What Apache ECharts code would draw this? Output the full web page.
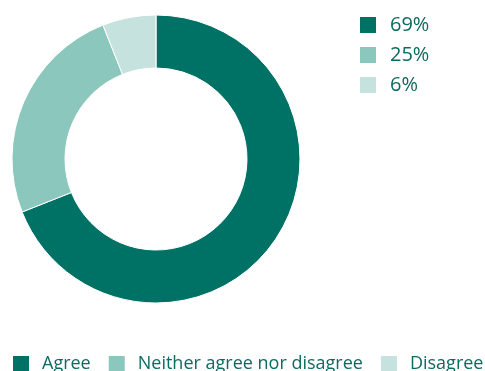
<!DOCTYPE html>
<html><head><meta charset="utf-8">
<script src="https://cdn.jsdelivr.net/npm/echarts@6/dist/echarts.min.js"></script>
<style>html,body{margin:0;padding:0;background:#fff}#c{width:485px;height:371px}</style>
</head><body><div id="c"></div>
<script>
const categories = ["Agree", "Neither agree nor disagree", "Disagree"];
const values = [69, 25, 6];
const colors = ["#007265", "#8cc7bd", "#c5e2de"];
const pctLabels = {};
categories.forEach((c, i) => pctLabels[c] = values[i] + "%");
const chart = echarts.init(document.getElementById('c'));
const font = "'Open Sans', sans-serif";
chart.setOption({
  animation: false,
  color: colors,
  legend: [
    {
      orient: 'vertical', left: 360, top: 15, padding: 0, itemWidth: 16, itemHeight: 16, itemGap: 10,
      icon: 'rect', data: categories, selectedMode: false,
      itemStyle: { borderWidth: 0 },
      formatter: n => pctLabels[n],
      textStyle: { color: '#0b6b60', fontSize: 20, lineHeight: 16, fontFamily: font, padding: [0,0,0,9] }
    },
    {
      orient: 'horizontal', left: 13, top: 355, padding: 0, itemWidth: 16, itemHeight: 16, itemGap: 18,
      icon: 'rect', data: categories, selectedMode: false,
      itemStyle: { borderWidth: 0 },
      textStyle: { color: '#0b6b60', fontSize: 18, lineHeight: 16, fontFamily: font, padding: [0,0,0,8] }
    }
  ],
  series: [{
    type: 'pie', center: [156, 159], radius: [91, 144], startAngle: 90, clockwise: true,
    label: { show: false }, labelLine: { show: false },
    itemStyle: { borderColor: '#fff', borderWidth: 1 },
    emphasis: { disabled: true },
    data: categories.map((c, i) => ({ name: c, value: values[i] }))
  }]
});
</script></body></html>
